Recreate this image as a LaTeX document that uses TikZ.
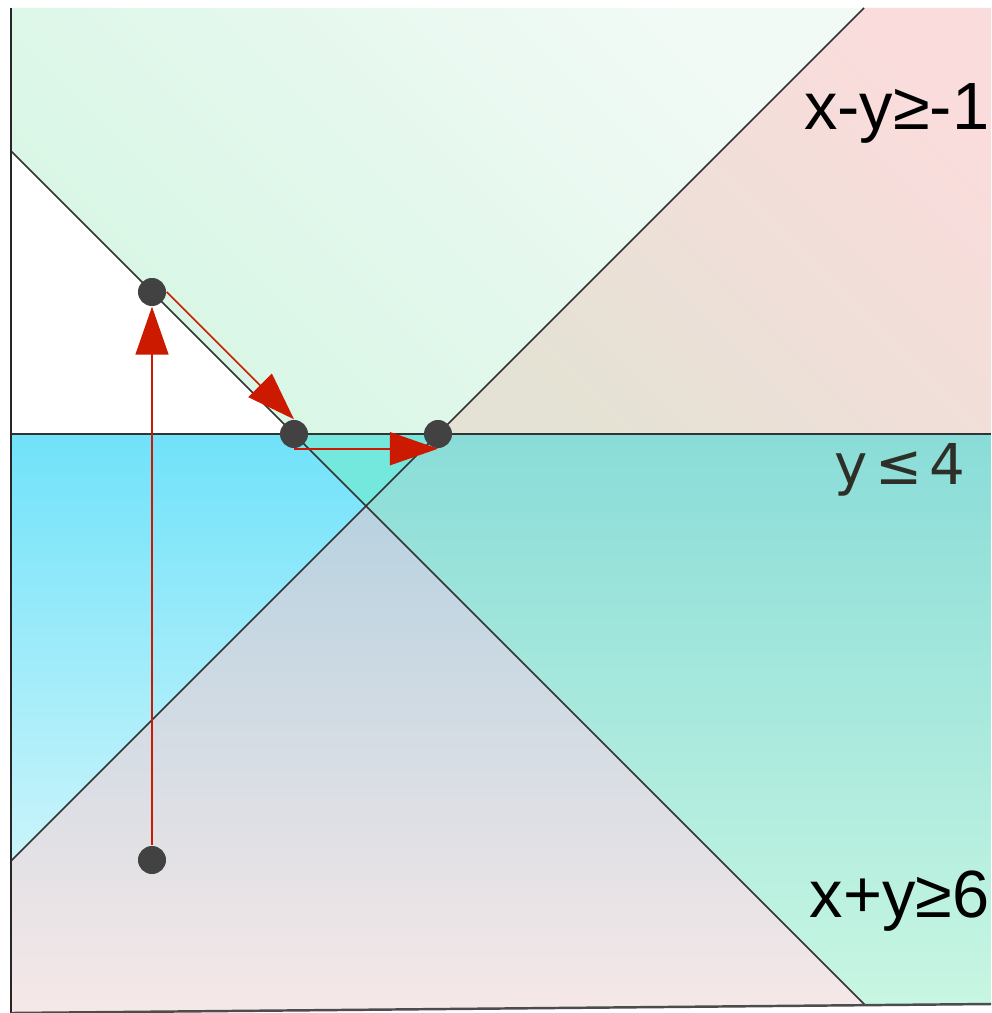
\documentclass[tikz,border=0pt]{standalone}
\usepackage{fontspec}
\setmainfont{Liberation Sans}
\newfontfamily\dejavu{DejaVu Sans}
\usetikzlibrary{arrows.meta}

\definecolor{mintA}{HTML}{D6F6E4}
\definecolor{mintB}{HTML}{F2FAF6}
\definecolor{cyanA}{HTML}{70E2FA}
\definecolor{cyanB}{HTML}{CAF4FA}
\definecolor{tealA}{HTML}{74E8DC}
\definecolor{sandA}{HTML}{E4E2D4}
\definecolor{roseA}{HTML}{FADCDC}
\definecolor{lilacA}{HTML}{B8D2E0}
\definecolor{lilacB}{HTML}{F6E8E8}
\definecolor{seaA}{HTML}{8ADCD8}
\definecolor{seaB}{HTML}{C8F6E2}
\definecolor{pathred}{HTML}{CC1A00}
\definecolor{dotgray}{HTML}{424242}
\definecolor{labelgray}{HTML}{2E3028}

\begin{document}
\begin{tikzpicture}[x=0.01cm, y=-0.01cm, >={Triangle[length=0.48cm, width=0.33cm]},
		dot/.style={circle, fill=dotgray, inner sep=0pt, minimum size=0.28cm},
		bound/.style={draw=black!80, line width=0.45pt},
		move/.style={->, draw=pathred, line width=0.45pt},
		ineq/.style={anchor=base east, inner sep=0pt, font=\fontsize{19}{23}\selectfont}]
			\fill[white] (0,0) rectangle (991,1013);
			\useasboundingbox (0,0) rectangle (991,1013);

			\coordinate (TL) at (11,8);
			\coordinate (TR) at (991,8);
			\coordinate (BR) at (991,1004);
			\coordinate (BL) at (11,1013);
			\coordinate (HL) at (11,434);
			\coordinate (HR) at (991,434);
			\coordinate (D1) at (11,151);
			\coordinate (D2) at (865,1005);
			\coordinate (A1) at (11,861);
			\coordinate (A2) at (864,8);
			\coordinate (P) at (294,434);
			\coordinate (Q) at (438,434);
			\coordinate (X) at (366,506);

			% feasible half-planes
			\shade[top color=mintB, bottom color=mintA, shading angle=-45] (TL) -- (A2) -- (Q) -- (P) -- (D1) -- cycle;
			\shade[top color=roseA, bottom color=sandA, shading angle=-45] (A2) -- (TR) -- (HR) -- (Q) -- cycle;
			\shade[top color=cyanA, bottom color=cyanB] (HL) -- (P) -- (X) -- (A1) -- cycle;
			\fill[tealA] (P) -- (Q) -- (X) -- cycle;
			\shade[top color=lilacA, bottom color=lilacB] (A1) -- (X) -- (D2) -- (BL) -- cycle;
			\shade[top color=seaA, bottom color=seaB] (X) -- (Q) -- (HR) -- (BR) -- (D2) -- cycle;

			\draw[bound] (HL) -- (HR);
			\draw[bound] (D1) -- (D2);
			\draw[bound] (A1) -- (A2);
			\draw[line width=0.6pt, black!85] (TL) -- (BL);
			\draw[line width=0.7pt, black!70] (BL) -- (BR);

			\node[dot] (s) at (152,860) {};
			\node[dot] (a) at (152,292) {};
			\node[dot] (b) at (294,434) {};
			\node[dot] (c) at (438,434) {};

			\draw[move] (s) -- (a);
			\draw[move] (a.east) -- (b.north);
			\draw[move] (b.south) -- (c.south);

			\node[ineq] (lblA) at (990,130) {x-y≥-1};
			\node[ineq] (lblD) at (990,917) {x+y≥6};
			\node[anchor=base west, inner sep=0pt, text=labelgray, font=\dejavu\fontsize{16}{19}\selectfont] (lblH) at (834,485) {y\hspace{2pt}≤\hspace{2pt}4};
		\end{tikzpicture}
\end{document}
